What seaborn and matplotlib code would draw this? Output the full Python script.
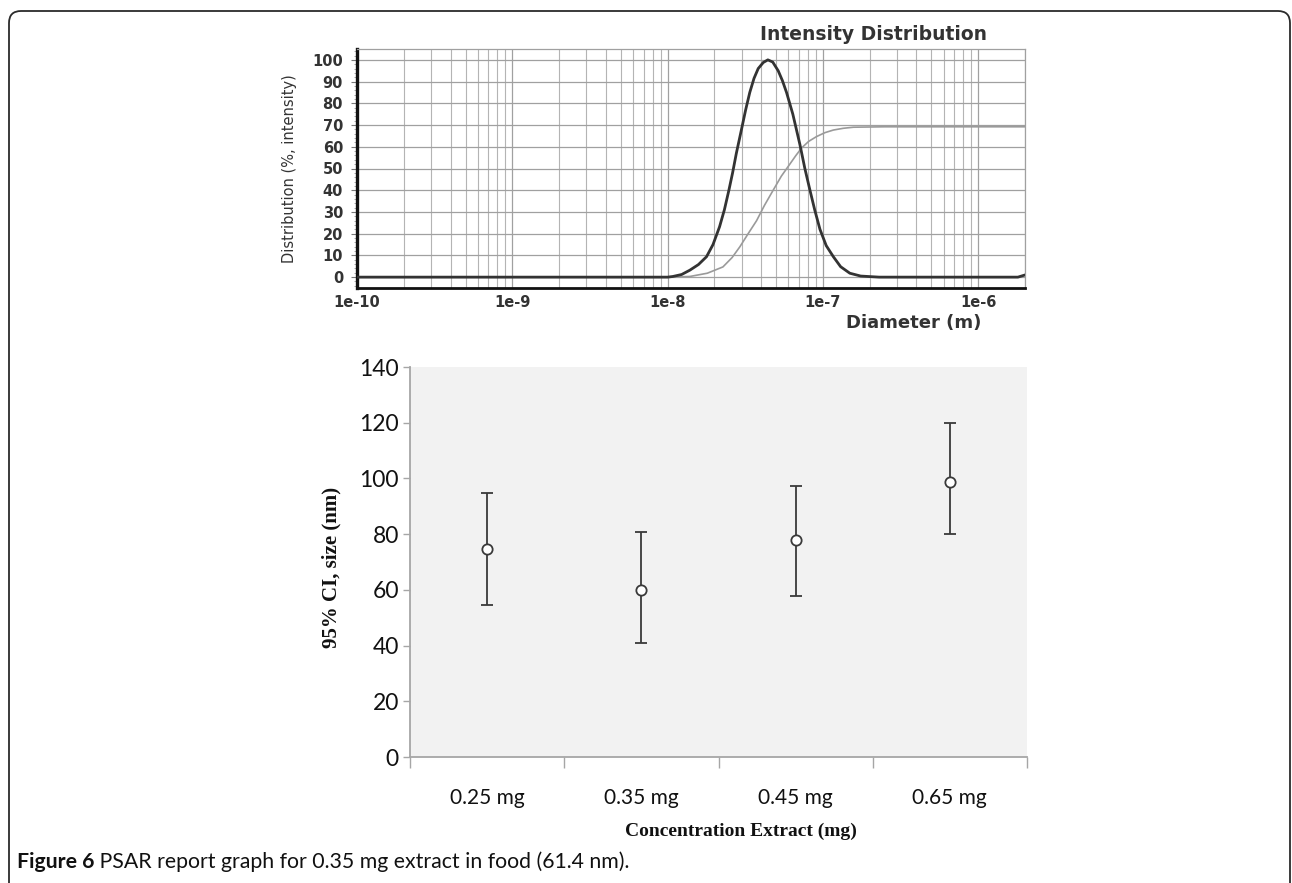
import numpy as np
import pandas as pd
import matplotlib
matplotlib.use("Agg")
import matplotlib.pyplot as plt
import matplotlib.ticker as mticker
from matplotlib.patches import FancyBboxPatch
import seaborn as sns

# ---------------- data ----------------
# Top panel: intensity distribution (diameter in nm, % intensity)
dist_diam_nm = [0.1, 10.0, 10.8, 12.3, 13.9, 15.8, 17.8, 19.6, 21.6, 23.2, 24.8, 26.2,
                27.7, 29.9, 31.8, 33.8, 36.0, 38.3, 41.3, 44.2, 47.5, 51.5, 54.8, 58.3,
                64.0, 71.1, 76.5, 82.5, 88.5, 95.7, 105.0, 116.7, 130.0, 149.0, 175.0,
                230.0, 1800.0, 2000.0]
dist_intensity = [0.0, 0.0, 0.3, 1.2, 3.2, 5.8, 9.4, 15.0, 23.2, 31.0, 40.0, 48.0,
                  57.0, 68.0, 77.0, 85.0, 91.5, 96.0, 98.8, 100.0, 99.0, 95.0, 90.5, 85.0,
                  75.0, 61.0, 50.0, 40.0, 31.0, 22.0, 14.5, 9.4, 4.8, 1.8, 0.5,
                  0.0, 0.0, 1.0]
cum_diam_nm = [0.1, 10.0, 13.9, 18.0, 22.7, 26.0, 29.2, 33.0, 37.4, 42.0, 47.8, 54.0,
               61.2, 67.0, 73.0, 81.0, 91.0, 103.0, 116.7, 135.0, 157.0, 250.0, 2000.0]
cum_intensity = [0.0, 0.0, 0.3, 1.8, 4.7, 9.0, 14.0, 20.0, 26.0, 33.0, 40.0, 46.5,
                 52.0, 56.0, 59.5, 62.5, 64.7, 66.5, 67.7, 68.5, 69.0, 69.2, 69.2]
top_xticks = [1e-10, 1e-9, 1e-8, 1e-7, 1e-6]
top_xtick_labels = ["1e-10", "1e-9", "1e-8", "1e-7", "1e-6"]
top_yticks = [0, 10, 20, 30, 40, 50, 60, 70, 80, 90, 100]

# Bottom panel: 95% CI of size
categories = ["0.25 mg", "0.35 mg", "0.45 mg", "0.65 mg"]
mean_size = [74.8, 60.0, 77.9, 98.6]
ci_low = [54.4, 41.0, 57.8, 80.2]
ci_high = [94.6, 80.8, 97.4, 120.0]
bottom_yticks = [0, 20, 40, 60, 80, 100, 120, 140]

caption_bold = "Figure 6"
caption_rest = " PSAR report graph for 0.35 mg extract in food (61.4 nm)."

# ---------------- figure ----------------
sns.set_style("white")
W, H = 1292, 883
fig = plt.figure(figsize=(W / 100, H / 100), dpi=100)

def frac_rect(x0, y0, x1, y1):
    return [x0 / W, 1 - y1 / H, (x1 - x0) / W, (y1 - y0) / H]

# outer rounded frame
frame = FancyBboxPatch((0.09, -0.3), 12.81, 8.72 + 0.3,
                       boxstyle="round,pad=0,rounding_size=0.12",
                       transform=fig.dpi_scale_trans, fill=False,
                       edgecolor="#2b2b2b", linewidth=1.3, zorder=0)
fig.add_artist(frame)

# ---------------- top panel ----------------
ax1 = fig.add_axes(frac_rect(357, 49, 1025, 288))
df_int = pd.DataFrame({"d": np.array(dist_diam_nm) * 1e-9, "v": dist_intensity})
df_cum = pd.DataFrame({"d": np.array(cum_diam_nm) * 1e-9, "v": cum_intensity})
ax1.set_xscale("log")
sns.lineplot(data=df_cum, x="d", y="v", ax=ax1, color="#9a9a9a", linewidth=1.2,
             sort=False, zorder=3)
sns.lineplot(data=df_int, x="d", y="v", ax=ax1, color="#333333", linewidth=2.0,
             sort=False, zorder=4)
ax1.set_xlim(1e-10, 2e-6)
ax1.set_ylim(-5, 105)
ax1.xaxis.set_major_locator(mticker.FixedLocator(top_xticks))
ax1.xaxis.set_major_formatter(mticker.FixedFormatter(top_xtick_labels))
ax1.xaxis.set_minor_locator(mticker.LogLocator(base=10, subs=np.arange(2, 10), numticks=20))
ax1.xaxis.set_minor_formatter(mticker.NullFormatter())
ax1.set_yticks(top_yticks)
ax1.yaxis.set_minor_locator(mticker.MultipleLocator(2))
ax1.grid(True, which="major", axis="both", color="#a0a0a0", linewidth=0.9)
ax1.grid(True, which="minor", axis="x", color="#b4b4b4", linewidth=0.8)
ax1.set_axisbelow(True)
for s in ["top", "right"]:
    ax1.spines[s].set_color("#a0a0a0")
    ax1.spines[s].set_linewidth(0.9)
ax1.spines["left"].set_color("#111111")
ax1.spines["left"].set_linewidth(2.4)
ax1.spines["bottom"].set_color("#111111")
ax1.spines["bottom"].set_linewidth(2.0)
ax1.tick_params(axis="x", which="both", length=0, pad=5, labelsize=10.5,
                labelcolor="#333333")
ax1.tick_params(axis="y", which="major", left=True, length=4, width=0.8, color="#777777",
                pad=6, labelsize=10.5, labelcolor="#333333", direction="out")
ax1.tick_params(axis="y", which="minor", left=True, length=2, width=0.6, color="#999999")
for lab in ax1.get_xticklabels() + ax1.get_yticklabels():
    lab.set_fontweight("bold")
ax1.set_xlabel("")
ax1.set_ylabel("Distribution (%, intensity)",
               family=["Liberation Sans Narrow", "DejaVu Sans"], fontsize=10.5,
               color="#333333")
ax1.yaxis.set_label_coords(-0.090, 0.5)
ax1.text(0.943, 1.059, "Intensity Distribution", transform=ax1.transAxes,
         ha="right", va="center", fontsize=13.5, fontweight="bold", color="#333333")
ax1.text(0.935, -0.145, "Diameter (m)", transform=ax1.transAxes,
         ha="right", va="center", fontsize=13, fontweight="bold", color="#333333")

# ---------------- bottom panel ----------------
ax2 = fig.add_axes(frac_rect(410, 367, 1027, 757))
ax2.set_facecolor("#f2f2f2")
xpos = np.arange(len(categories))
df_pts = pd.DataFrame({"x": xpos, "m": mean_size})
yerr = np.array([np.array(mean_size) - np.array(ci_low),
                 np.array(ci_high) - np.array(mean_size)])
ax2.errorbar(xpos, mean_size, yerr=yerr, fmt="none", ecolor="#3a3a3a",
             elinewidth=1.3, capsize=4.0, capthick=1.3, zorder=3)
sns.scatterplot(data=df_pts, x="x", y="m", ax=ax2, marker="o", s=55,
                facecolor="white", edgecolor="#3a3a3a", linewidth=1.3, zorder=4)
ax2.set_xlim(-0.5, len(categories) - 0.5)
ax2.set_ylim(0, 140)
ax2.set_yticks(bottom_yticks)
ax2.set_xticks(np.arange(len(categories) + 1) - 0.5)
ax2.set_xticklabels([])
ax2.set_xticks(xpos, minor=True)
ax2.set_xticklabels(categories, minor=True)
for s in ["top", "right"]:
    ax2.spines[s].set_visible(False)
for s in ["left", "bottom"]:
    ax2.spines[s].set_color("#a6a6a6")
    ax2.spines[s].set_linewidth(1.3)
ax2.tick_params(axis="x", which="major", bottom=True, length=8, width=1.0, color="#a6a6a6",
                direction="out")
ax2.tick_params(axis="x", which="minor", bottom=False, length=0, pad=22)
ax2.tick_params(axis="y", which="major", left=True, length=5, width=1.0, color="#a6a6a6",
                direction="out", pad=3)
for lab in ax2.get_xticklabels(minor=True) + ax2.get_yticklabels():
    lab.set_family(["Lato", "DejaVu Sans"])
    lab.set_fontsize(16.5)
    lab.set_color("#111111")
for lab in ax2.get_xticklabels(minor=True):
    lab.set_fontsize(15)
ax2.set_xlabel("Concentration Extract (mg)", family=["Liberation Serif", "DejaVu Serif"],
               fontweight="bold", fontsize=14, color="#111111")
ax2.xaxis.set_label_coords(0.536, -0.168)
ax2.set_ylabel("95% CI, size (nm)", family=["Liberation Serif", "DejaVu Serif"],
               fontweight="bold", fontsize=15, color="#111111")
ax2.yaxis.set_label_coords(-0.111, 0.487)

# ---------------- caption ----------------
t1 = fig.text(17 / W, 1 - 862 / H, caption_bold, ha="left", va="center",
              family=["Lato", "DejaVu Sans"], fontweight="bold", fontsize=15.3,
              color="#111111")
ax2.annotate(caption_rest, xy=(1, 0), xycoords=t1, ha="left", va="bottom",
             family=["Lato", "DejaVu Sans"], fontsize=15.3, color="#111111",
             annotation_clip=False)

fig.savefig("out.png", dpi=100)
